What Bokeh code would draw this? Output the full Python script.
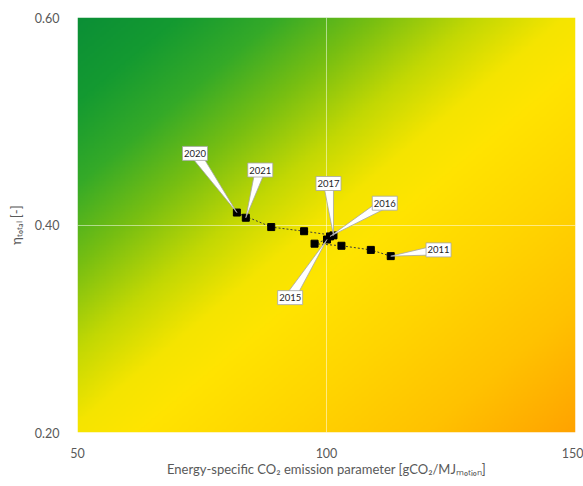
import numpy as np
from bokeh.plotting import figure
from bokeh.models import Range1d, FixedTicker, BoxAnnotation
from bokeh.core.properties import value
from bokeh.embed import file_html
from bokeh.resources import INLINE

# ---- data ----
years = ["2011", "2012", "2013", "2014", "2015", "2016", "2017", "2018", "2019", "2020", "2021"]
emission = [112.9, 108.9, 103.0, 97.6, 100.1, 100.7, 101.4, 95.5, 88.9, 82.0, 83.8]
eta = [0.370, 0.376, 0.380, 0.382, 0.386, 0.389, 0.390, 0.394, 0.398, 0.412, 0.407]

label_years = ["2011", "2015", "2016", "2017", "2020", "2021"]
label_x = [122.5, 92.7, 111.7, 100.4, 73.6, 86.7]
label_y = [0.376, 0.330, 0.421, 0.440, 0.469, 0.453]

x_ticks = [50, 100, 150]
y_ticks = [0.20, 0.40, 0.60]
X0, X1 = 50, 150
Y0, Y1 = 0.20, 0.60

# gradient colour stops (position along diagonal, colour)
grad_pos = [0.0, 0.10, 0.20, 0.30, 0.40, 0.49, 0.56, 0.70, 0.85, 1.0]
grad_col = ["#0b8f36", "#149a31", "#35aa28", "#78bf12", "#c2d804", "#f5e500", "#ffe400",
            "#ffd500", "#ffc200", "#ffa300"]

# ---- figure ----
W, H = 583, 486
BL, BR, BT, BB = 77, 8, 17, 54
FW, FH = W - BL - BR, H - BT - BB

p = figure(width=W, height=H, x_range=Range1d(X0, X1), y_range=Range1d(Y0, Y1),
           output_backend="svg", toolbar_location=None,
           min_border_left=BL, min_border_right=BR, min_border_top=BT, min_border_bottom=BB)
p.outline_line_color = None
p.background_fill_color = "white"
p.border_fill_color = "white"

# background gradient image
ny, nx = 240, 288
xs = np.linspace(0, 1, nx)[None, :]
ys = np.linspace(0, 1, ny)[:, None]
t = (xs + (1 - ys)) / 2.0
rgb = [tuple(int(c[i:i + 2], 16) for i in (1, 3, 5)) for c in grad_col]
img = np.empty((ny, nx), dtype=np.uint32)
view = img.view(dtype=np.uint8).reshape((ny, nx, 4))
for ch in range(3):
    view[:, :, ch] = np.interp(t, grad_pos, [c[ch] for c in rgb]).astype(np.uint8)
view[:, :, 3] = 255
p.image_rgba(image=[img], x=X0, y=Y0, dw=X1 - X0, dh=Y1 - Y0, level="image")

# grid
p.xgrid.ticker = FixedTicker(ticks=[x_ticks[1]])
p.ygrid.ticker = FixedTicker(ticks=[y_ticks[1]])
for g in (p.xgrid, p.ygrid):
    g.grid_line_color = "white"
    g.grid_line_alpha = 0.5
    g.grid_line_width = 1

# series
p.line(emission, eta, line_color="#3a3a3a", line_width=1, line_dash="2 2")
p.scatter(emission, eta, marker="square", size=7, fill_color="black", line_color="black")

# callouts
sx = FW / (X1 - X0)
sy = FH / (Y1 - Y0)
idx = {y: i for i, y in enumerate(years)}
wx, wy = [], []
half = 5.0
for yr, lx, ly in zip(label_years, label_x, label_y):
    i = idx[yr]
    px, py = emission[i], eta[i]
    dx, dy = (px - lx) * sx, (py - ly) * sy
    L = (dx * dx + dy * dy) ** 0.5
    nxp, nyp = -dy / L, dx / L
    wx.append([lx + nxp * half / sx, lx - nxp * half / sx, px])
    wy.append([ly + nyp * half / sy, ly - nyp * half / sy, py])
p.patches(wx, wy, fill_color="white", line_color="#a6a6a6", line_width=0.8)
p.rect(x=label_x, y=label_y, width=25, height=14, width_units="screen", height_units="screen",
       fill_color="white", line_color="#a6a6a6", line_width=0.8)
p.text(x=label_x, y=label_y, text=label_years, text_align="center", text_baseline="middle",
       text_font=value("Lato"), text_font_size="9.5px", text_color="#1f1f1f")

# chart-area border
p.add_layout(BoxAnnotation(left=10, right=W + 10, top=5, bottom=478,
                           left_units="canvas", right_units="canvas",
                           top_units="canvas", bottom_units="canvas",
                           fill_alpha=0, line_color="#d9d9d9", line_width=1))

# axes
p.xaxis.ticker = FixedTicker(ticks=x_ticks)
p.yaxis.ticker = FixedTicker(ticks=y_ticks)
p.yaxis.major_label_overrides = {v: f"{v:.2f}" for v in y_ticks}
for ax in (p.xaxis, p.yaxis):
    ax.axis_line_color = None
    ax.major_tick_line_color = None
    ax.minor_tick_line_color = None
    ax.major_label_text_font = "Lato"
    ax.major_label_text_font_size = "12.5px"
    ax.major_label_text_color = "#595959"
    ax.axis_label_text_font = "Lato"
    ax.axis_label_text_font_style = "normal"
    ax.axis_label_text_color = "#595959"
    ax.axis_label_text_font_size = "13px"
p.xaxis.major_label_standoff = 9
p.yaxis.major_label_standoff = 12
p.xaxis.axis_label = "Energy-specific CO\u2082 emission parameter [gCO\u2082/MJ\u2098\u2092\u209c\u1d62\u2092\u2099]"
p.yaxis.axis_label = "\u03b7\u209c\u2092\u209c\u2090\u2097 [-]"
p.xaxis.axis_label_standoff = 0
p.yaxis.axis_label_standoff = 8

open("out.html", "w").write(file_html(p, INLINE))
